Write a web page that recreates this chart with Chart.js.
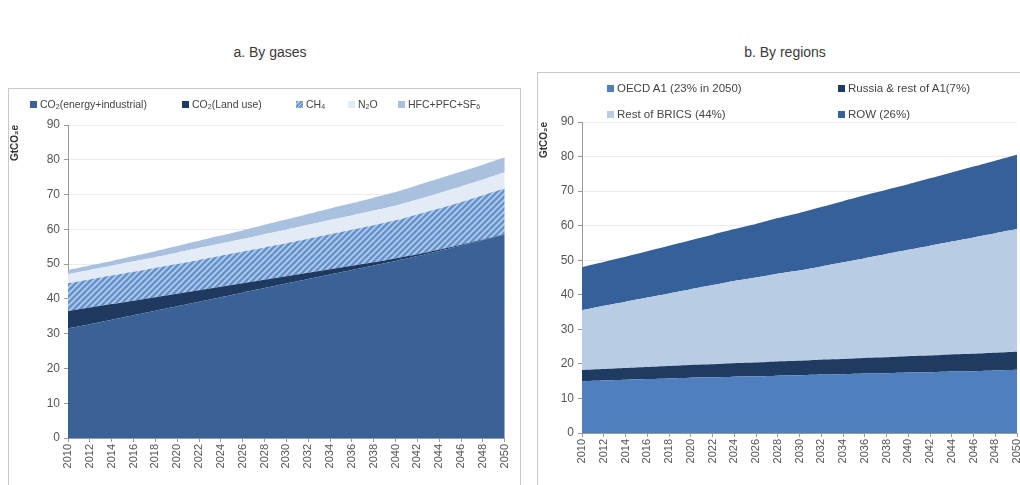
<!DOCTYPE html>
<html lang="en">
<head>
<meta charset="UTF-8">
<title>GHG emissions by gases and by regions</title>
<script src="https://cdn.jsdelivr.net/npm/chart.js"></script>
<style>
    body {
        margin: 0;
        width: 1020px;
        height: 485px;
        overflow: hidden;
        background: #fff;
        font-family: "Liberation Sans", Arial, sans-serif;
        position: relative;
    }
    .title {
        position: absolute;
        top: 44px;
        font-size: 14px;
        color: #3a3a3a;
        transform: translateX(-50%);
        white-space: nowrap;
    }
    .panel {
        position: absolute;
        border: 1px solid #c9c9c9;
        background: #fff;
    }
    .panel canvas {
        position: absolute;
        left: 0;
        top: 0;
    }
    .leg {
        position: absolute;
        color: #444;
        white-space: nowrap;
        line-height: 12px;
    }
    .leg i {
        display: inline-block;
        width: 7px;
        height: 7px;
        margin-right: 3px;
        vertical-align: 0px;
    }
    .leg sub { font-size: 7px; vertical-align: -1px; line-height: 0; }
</style>
</head>
<body>

<div class="title" style="left:270px">a. By gases</div>
<div class="title" style="left:785px">b. By regions</div>

<!-- panel a -->
<div class="panel" id="panelA" style="left:8px; top:88px; width:511px; height:420px;">
    <canvas id="chartGases"></canvas>
    <div class="leg" style="left:21px; top:9px; font-size:10.5px"><i style="background:#3b6296"></i>CO<sub>2</sub>(energy+industrial)</div>
    <div class="leg" style="left:173px; top:9px; font-size:10.5px"><i style="background:#1e3a60"></i>CO<sub>2</sub>(Land use)</div>
    <div class="leg" style="left:287px; top:9px; font-size:10.5px"><i style="background:repeating-linear-gradient(135deg,#6d99d0 0 2px,#b8cfec 2px 3px)"></i>CH<sub>4</sub></div>
    <div class="leg" style="left:339px; top:9px; font-size:10.5px"><i style="background:#e3ebf6"></i>N<sub>2</sub>O</div>
    <div class="leg" style="left:389px; top:9px; font-size:10.5px"><i style="background:#a9c0de"></i>HFC+PFC+SF<sub>6</sub></div>
</div>

<!-- panel b -->
<div class="panel" id="panelB" style="left:537px; top:72px; width:520px; height:440px;">
    <canvas id="chartRegions"></canvas>
    <div class="leg" style="left:69px; top:9px; font-size:11.5px"><i style="background:#4f7fbf"></i>OECD A1 (23% in 2050)</div>
    <div class="leg" style="left:300px; top:9px; font-size:11.5px"><i style="background:#1f3b62"></i>Russia &amp; rest of A1(7%)</div>
    <div class="leg" style="left:69px; top:35px; font-size:11.5px"><i style="background:#b8cce4"></i>Rest of BRICS (44%)</div>
    <div class="leg" style="left:300px; top:35px; font-size:11.5px"><i style="background:#36609a"></i>ROW (26%)</div>
</div>

<script>
    // years on the x axis
    const years = ['2010','2012','2014','2016','2018','2020','2022','2024','2026','2028','2030',
                   '2032','2034','2036','2038','2040','2042','2044','2046','2048','2050'];

    // a. by gases (GtCO2e)
    const co2Energy = [31.5,32.7,34.0,35.3,36.6,37.9,39.2,40.5,41.8,43.1,44.4,45.7,47.0,48.3,49.6,50.9,52.3,53.8,55.3,56.9,58.5];
    const co2Land   = [5.0,4.8,4.5,4.2,3.9,3.6,3.3,3.0,2.7,2.4,2.1,1.8,1.5,1.2,0.9,0.7,0.5,0.4,0.3,0.2,0.1];
    const ch4       = [8.0,8.1,8.2,8.3,8.4,8.5,8.7,8.9,9.1,9.3,9.5,9.8,10.1,10.4,10.7,11.0,11.5,11.8,12.2,12.7,13.2];
    const n2o       = [2.6,2.7,2.8,3.0,3.1,3.3,3.4,3.5,3.6,3.8,3.9,4.0,4.1,4.1,4.2,4.2,4.3,4.4,4.5,4.5,4.6];
    const fgases    = [1.2,1.3,1.4,1.5,1.7,1.9,2.1,2.3,2.5,2.7,2.9,3.1,3.3,3.5,3.7,3.9,4.1,4.2,4.3,4.3,4.3];

    // b. by regions (GtCO2e)
    const oecd   = [15.0,15.2,15.4,15.6,15.8,16.0,16.1,16.3,16.4,16.6,16.7,16.9,17.0,17.2,17.3,17.5,17.6,17.8,17.9,18.1,18.3];
    const russia = [3.2,3.3,3.4,3.5,3.6,3.7,3.8,3.9,4.0,4.1,4.2,4.3,4.4,4.5,4.6,4.7,4.8,4.9,5.0,5.1,5.2];
    const brics  = [17.3,18.3,19.2,20.1,21.0,21.9,22.9,23.8,24.6,25.4,26.1,27.0,28.0,28.9,29.9,30.8,31.8,32.7,33.7,34.6,35.5];
    const row    = [12.5,12.7,13.0,13.4,13.8,14.2,14.6,15.0,15.5,16.1,16.7,17.2,17.7,18.2,18.6,19.0,19.5,20.0,20.5,21.0,21.5];

    const yTicks = { min: 0, max: 90, step: 10 };

    // hatch for CH4
    function makeHatch() {
        const c = document.createElement('canvas');
        c.width = 6; c.height = 6;
        const g = c.getContext('2d');
        g.fillStyle = '#6693cc';
        g.fillRect(0, 0, 6, 6);
        g.strokeStyle = '#b6cdeb';
        g.lineWidth = 1.6;
        g.beginPath();
        g.moveTo(-1, 7); g.lineTo(7, -1);
        g.moveTo(-1, 1); g.lineTo(1, -1);
        g.moveTo(5, 7); g.lineTo(7, 5);
        g.stroke();
        return g.createPattern(c, 'repeat');
    }

    function area(label, data, color, i) {
        return {
            label: label,
            data: data,
            backgroundColor: color,
            borderWidth: 0,
            pointRadius: 0,
            fill: i === 0 ? 'origin' : '-1',
            tension: 0.2
        };
    }

    function makeOptions(yWidth, xHeight, pad) {
        return {
            responsive: false,
            animation: false,
            layout: { padding: pad },
            plugins: { legend: { display: false }, tooltip: { enabled: false } },
            scales: {
                x: {
                    offset: false,
                    grid: { drawOnChartArea: false, drawTicks: true, tickLength: 4, tickColor: '#9a9a9a' },
                    border: { color: '#9a9a9a' },
                    ticks: {
                        autoSkip: false, maxRotation: 90, minRotation: 90,
                        color: '#555', font: { family: 'Liberation Sans', size: 11 }, padding: 2
                    },
                    afterFit: s => { s.height = xHeight; }
                },
                y: {
                    stacked: true,
                    min: yTicks.min, max: yTicks.max,
                    grid: { color: '#ececec', tickLength: 4, tickColor: '#9a9a9a' },
                    border: { color: '#9a9a9a' },
                    ticks: {
                        stepSize: yTicks.step,
                        color: '#555', font: { family: 'Liberation Sans', size: 12 }, padding: 4
                    },
                    title: {
                        display: true, text: 'GtCO₂e', align: 'end',
                        color: '#333', font: { family: 'Liberation Sans', size: 10, weight: 'bold' },
                        padding: { top: 0, bottom: 0 }
                    },
                    afterFit: s => { s.width = yWidth; }
                }
            }
        };
    }

    const cA = document.getElementById('chartGases');
    cA.width = 511; cA.height = 396;
    new Chart(cA.getContext('2d'), {
        type: 'line',
        data: {
            labels: years,
            datasets: [
                area('CO2 (energy+industrial)', co2Energy, '#3b6296', 0),
                area('CO2 (Land use)', co2Land, '#1e3a60', 1),
                area('CH4', ch4, makeHatch(), 2),
                area('N2O', n2o, '#e3ebf6', 3),
                area('HFC+PFC+SF6', fgases, '#a9c0de', 4)
            ]
        },
        options: makeOptions(59, 47, { top: 36, right: 14, bottom: 0, left: 0 })
    });

    const cB = document.getElementById('chartRegions');
    cB.width = 495; cB.height = 412;
    new Chart(cB.getContext('2d'), {
        type: 'line',
        data: {
            labels: years,
            datasets: [
                area('OECD A1', oecd, '#4f7fbf', 0),
                area('Russia & rest of A1', russia, '#1f3b62', 1),
                area('Rest of BRICS', brics, '#b8cce4', 2),
                area('ROW', row, '#36609a', 3)
            ]
        },
        options: makeOptions(44, 52, { top: 49, right: 16, bottom: 0, left: 0 })
    });
</script>

</body>
</html>
